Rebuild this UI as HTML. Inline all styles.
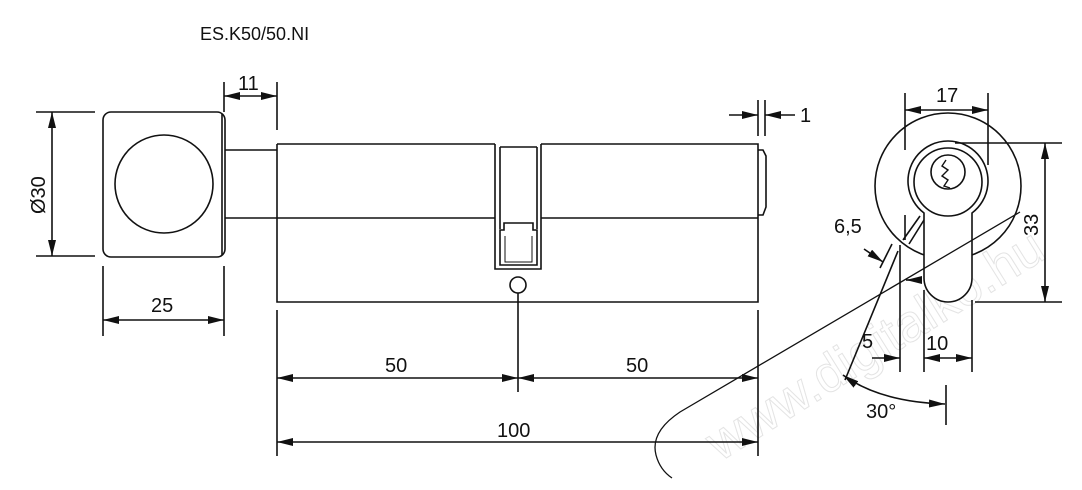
<!DOCTYPE html>
<html><head><meta charset="utf-8"><style>
body{margin:0;background:#fff;}
svg{display:block;}
text{font-family:"Liberation Sans",sans-serif;font-size:20px;fill:#111;}
</style></head><body>
<svg width="1082" height="490" viewBox="0 0 1082 490" xmlns="http://www.w3.org/2000/svg">
<defs>
<marker id="a" viewBox="0 0 16 8" refX="16" refY="4" markerWidth="16" markerHeight="8" markerUnits="userSpaceOnUse" orient="auto-start-reverse"><path d="M0,0L16,4L0,8z" fill="#111"/></marker>
</defs>
<text x="0" y="0" transform="translate(720,462) rotate(-32)" style="font-size:52px;fill:none;stroke:#e4e4e4;stroke-width:1">www.digitalko.hu</text>
<g fill="none" stroke="#111" stroke-width="1.6">
<text x="200" y="40" stroke="none" style="font-size:18px">ES.K50/50.NI</text>
<!-- knob -->
<rect x="103" y="112" width="122" height="145" rx="8"/>
<line x1="222" y1="114" x2="222" y2="255"/>
<circle cx="164" cy="184" r="49"/>
<!-- shaft -->
<line x1="225" y1="150" x2="277" y2="150"/><line x1="225" y1="218" x2="277" y2="218"/>
<!-- body -->
<path d="M277,144H495M541,144H758V302H277V144"/>
<line x1="277" y1="218" x2="495" y2="218"/><line x1="541" y1="218" x2="758" y2="218"/>
<path d="M758,150H763L766,156V207L763,215H758"/>
<!-- cam -->
<path d="M495,144V269H541V144"/>
<path d="M500,147V229M537,147V229M500,147H537"/>
<path d="M504,223H533V230H537V265H500V230H504Z"/>
<path d="M505,236V262H532V236" stroke-width="1"/>
<circle cx="518" cy="285" r="8"/>
<!-- dims left -->
<line x1="224" y1="82" x2="224" y2="112"/><line x1="277" y1="82" x2="277" y2="130"/>
<line x1="224" y1="96" x2="277" y2="96" marker-start="url(#a)" marker-end="url(#a)"/>
<text x="238" y="90" stroke="none">11</text>
<line x1="36" y1="112" x2="95" y2="112"/><line x1="36" y1="256" x2="95" y2="256"/>
<line x1="52" y1="112" x2="52" y2="256" marker-start="url(#a)" marker-end="url(#a)"/>
<text x="0" y="0" stroke="none" transform="translate(45,214) rotate(-90)">Ø30</text>
<line x1="103" y1="266" x2="103" y2="336"/><line x1="224" y1="266" x2="224" y2="336"/>
<line x1="103" y1="320" x2="224" y2="320" marker-start="url(#a)" marker-end="url(#a)"/>
<text x="151" y="312" stroke="none">25</text>
<line x1="277" y1="310" x2="277" y2="456"/><line x1="518" y1="293" x2="518" y2="392"/><line x1="758" y1="310" x2="758" y2="456"/>
<line x1="277" y1="378" x2="518" y2="378" marker-start="url(#a)" marker-end="url(#a)"/>
<line x1="518" y1="378" x2="758" y2="378" marker-start="url(#a)" marker-end="url(#a)"/>
<text x="385" y="372" stroke="none">50</text><text x="626" y="372" stroke="none">50</text>
<line x1="277" y1="442" x2="758" y2="442" marker-start="url(#a)" marker-end="url(#a)"/>
<text x="497" y="437" stroke="none">100</text>
<line x1="758" y1="100" x2="758" y2="136"/><line x1="765" y1="100" x2="765" y2="136"/>
<line x1="729" y1="115" x2="758" y2="115" marker-end="url(#a)"/>
<line x1="795" y1="115" x2="765" y2="115" marker-end="url(#a)"/>
<text x="800" y="122" stroke="none">1</text>
<!-- right view -->
<circle cx="948" cy="186" r="73"/>
<path d="M924,213 A40,40 0 1 1 972,213 V278 A24,24 0 0 1 924,278 Z" fill="#fff"/>
<circle cx="948" cy="182" r="34"/>
<circle cx="948" cy="172" r="17"/>
<path d="M946,160L942,166L948,170L942,176L948,180L944,186L950,188" stroke-width="1.4"/>
<path d="M920,216L903,240M924,220L909,244" />
<line x1="905" y1="93" x2="905" y2="150"/><line x1="905" y1="215" x2="905" y2="240"/><line x1="988" y1="93" x2="988" y2="165"/>
<line x1="905" y1="110" x2="988" y2="110" marker-start="url(#a)" marker-end="url(#a)"/>
<text x="936" y="102" stroke="none">17</text>
<line x1="955" y1="143" x2="1062" y2="143"/><line x1="975" y1="302" x2="1062" y2="302"/>
<line x1="1045" y1="143" x2="1045" y2="302" marker-start="url(#a)" marker-end="url(#a)"/>
<text x="0" y="0" stroke="none" transform="translate(1038,236) rotate(-90)">33</text>
<line x1="900" y1="245" x2="900" y2="372"/><line x1="924" y1="290" x2="924" y2="372"/><line x1="972" y1="300" x2="972" y2="372"/>
<line x1="924" y1="358" x2="972" y2="358" marker-start="url(#a)" marker-end="url(#a)"/>
<text x="926" y="350" stroke="none">10</text>
<line x1="872" y1="358" x2="900" y2="358" marker-end="url(#a)"/>
<text x="862" y="348" stroke="none">5</text>
<text x="834" y="233" stroke="none">6,5</text>
<line x1="864" y1="249" x2="883" y2="262" marker-end="url(#a)"/>
<line x1="880" y1="268" x2="892" y2="244"/>
<line x1="845" y1="380" x2="898" y2="251"/>
<line x1="922" y1="280" x2="906" y2="280" marker-end="url(#a)"/>
<path d="M843,375 Q880,402 945,404" marker-start="url(#a)" marker-end="url(#a)"/>
<line x1="946" y1="385" x2="946" y2="425"/>
<text x="866" y="418" stroke="none">30°</text>
<!-- watermark outline -->
<path d="M1020,212 L680,412 Q650,432 656,455 Q660,470 672,478" stroke-width="1.3"/>
</g>
</svg>
</body></html>
